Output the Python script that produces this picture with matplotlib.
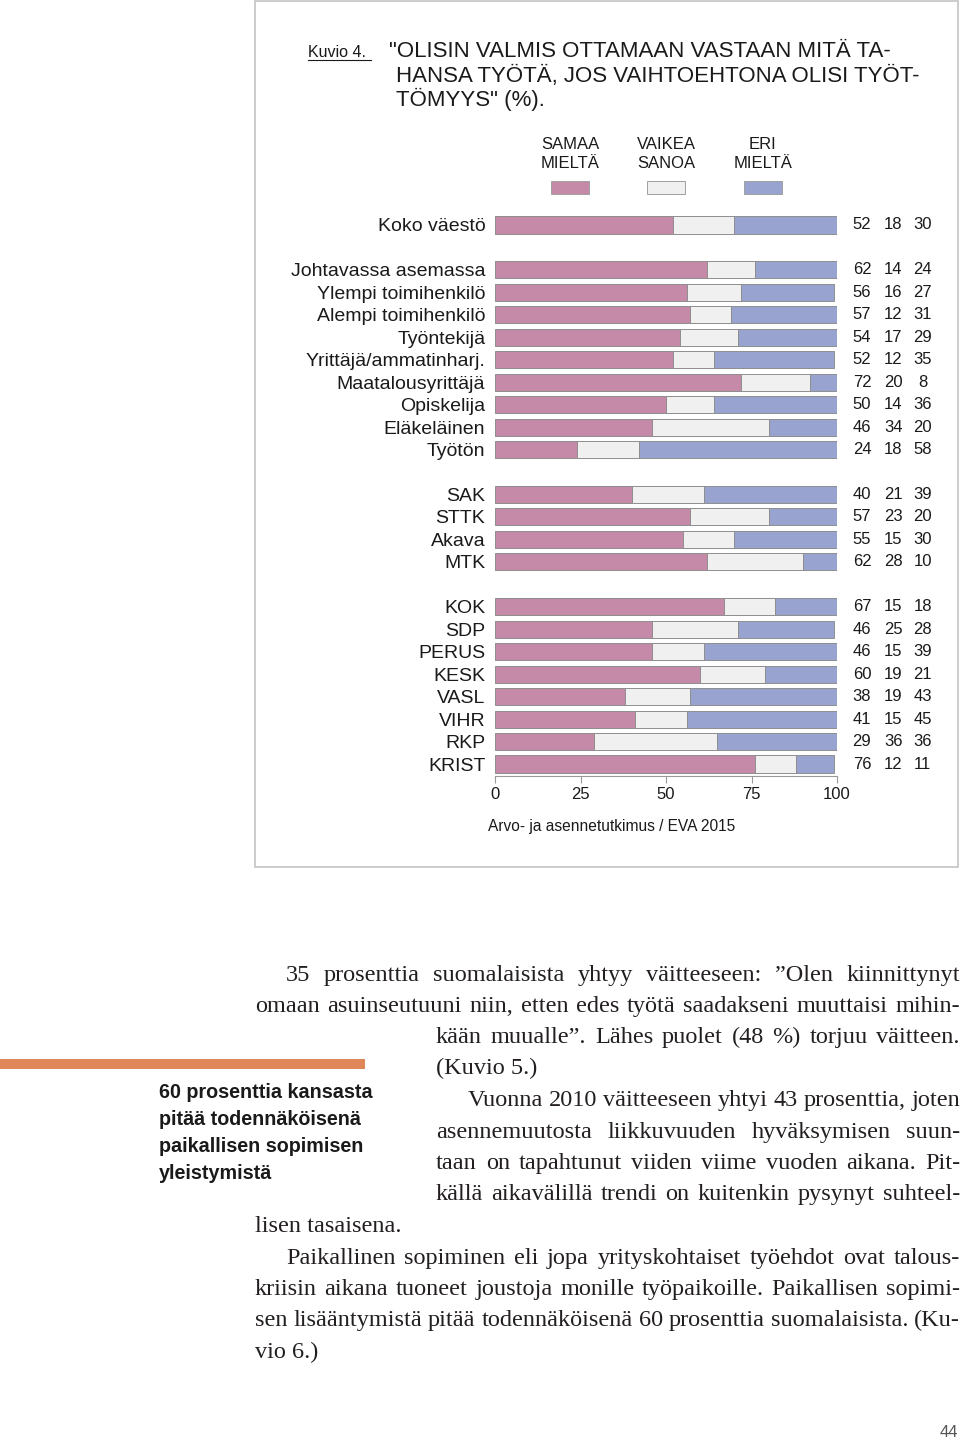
import matplotlib
matplotlib.use('Agg')
import matplotlib.pyplot as plt
from matplotlib.patches import Rectangle


# ===== DATA =====
cats_total = ['Koko väestö']
cats_status = ['Johtavassa asemassa', 'Ylempi toimihenkilö', 'Alempi toimihenkilö',
               'Työntekijä', 'Yrittäjä/ammatinharj.', 'Maatalousyrittäjä',
               'Opiskelija', 'Eläkeläinen', 'Työtön']
cats_union = ['SAK', 'STTK', 'Akava', 'MTK']
cats_party = ['KOK', 'SDP', 'PERUS', 'KESK', 'VASL', 'VIHR', 'RKP', 'KRIST']

agree = [52, 62, 56, 57, 54, 52, 72, 50, 46, 24, 40, 57, 55, 62, 67, 46, 46, 60, 38, 41, 29, 76]
unsure = [18, 14, 16, 12, 17, 12, 20, 14, 34, 18, 21, 23, 15, 28, 15, 25, 15, 19, 19, 15, 36, 12]
disagree = [30, 24, 27, 31, 29, 35, 8, 36, 20, 58, 39, 20, 30, 10, 18, 28, 39, 21, 43, 45, 36, 11]

legend_labels = ['SAMAA\nMIELTÄ', 'VAIKEA\nSANOA', 'ERI\nMIELTÄ']
x_ticks = [0, 25, 50, 75, 100]

title_lines = ['"OLISIN VALMIS OTTAMAAN VASTAAN MITÄ TA-',
               'HANSA TYÖTÄ, JOS VAIHTOEHTONA OLISI TYÖT-',
               'TÖMYYS" (%).']
source = 'Arvo- ja asennetutkimus / EVA 2015'

sidebar = ['60 prosenttia kansasta', 'pitää todennäköisenä',
           'paikallisen sopimisen', 'yleistymistä']

# (text, justified)
body_lines = [
    ('35 prosenttia suomalaisista yhtyy väitteeseen: ”Olen kiinnittynyt', True),
    ('omaan asuinseutuuni niin, etten edes työtä saadakseni muuttaisi mihin-', True),
    ('kään muualle”. Lähes puolet (48 %) torjuu väitteen.', True),
    ('(Kuvio 5.)', False),
    ('Vuonna 2010 väitteeseen yhtyi 43 prosenttia, joten', True),
    ('asennemuutosta liikkuvuuden hyväksymisen suun-', True),
    ('taan on tapahtunut viiden viime vuoden aikana. Pit-', True),
    ('källä aikavälillä trendi on kuitenkin pysynyt suhteel-', True),
    ('lisen tasaisena.', False),
    ('Paikallinen sopiminen eli jopa yrityskohtaiset työehdot ovat talous-', True),
    ('kriisin aikana tuoneet joustoja monille työpaikoille. Paikallisen sopimi-', True),
    ('sen lisääntymistä pitää todennäköisenä 60 prosenttia suomalaisista. (Ku-', True),
    ('vio 6.)', False),
]
body_left = [286, 255, 436, 436, 468, 436, 436, 436, 255, 286, 255, 255, 255]

PINK = '#C48AA7'
GREY = '#F0F0F0'
BLUE = '#98A3D0'
EDGE = '#8E8E8E'
TXT = '#1A1A1A'

W, H = 960, 1438
fig = plt.figure(figsize=(W / 100, H / 100), dpi=100)
fig.patch.set_facecolor('white')

# page overlay in pixel coordinates
page = fig.add_axes([0, 0, 1, 1])
page.set_xlim(0, W)
page.set_ylim(H, 0)
page.axis('off')
page.set_facecolor('none')

# chart frame
page.add_patch(Rectangle((255, 1), 703, 866, fill=False, edgecolor='#C4C4C4', linewidth=1.2))

# title
page.text(308, 57, 'Kuvio 4.', fontsize=11.5, family='Liberation Sans', color=TXT, va='baseline')
page.plot([308, 371], [60, 60], color=TXT, linewidth=0.8)
title_x = [389, 396, 396]
for i, line in enumerate(title_lines):
    page.text(title_x[i], 57 + i * 24.6, line, fontsize=16, family='Liberation Sans',
              color=TXT, va='baseline')

# legend
legend_colors = [PINK, GREY, BLUE]
legend_x = [570, 666, 763]
for lx, lab, col in zip(legend_x, legend_labels, legend_colors):
    page.text(lx, 154, lab, fontsize=12, family='Liberation Sans',
              color=TXT, ha='center', va='center', linespacing=1.3)
    page.add_patch(Rectangle((lx - 19, 181), 38, 13, facecolor=col, edgecolor='#A0A0A0', linewidth=0.7))

# ===== BAR CHART =====
blocks = [cats_total, cats_status, cats_union, cats_party]
cats, pos = [], []
slot = 0
for b in blocks:
    for c in b:
        cats.append(c)
        pos.append(slot)
        slot += 1
    slot += 1

ax_l, ax_r, ax_t, ax_b = 495, 837, 213, 776
ax = fig.add_axes([ax_l / W, 1 - ax_b / H, (ax_r - ax_l) / W, (ax_b - ax_t) / H])
ax.set_facecolor('none')

left2 = [a + u for a, u in zip(agree, unsure)]
ax.barh(pos, agree, height=0.76, color=PINK, edgecolor=EDGE, linewidth=0.7)
ax.barh(pos, unsure, left=agree, height=0.76, color=GREY, edgecolor=EDGE, linewidth=0.7)
ax.barh(pos, disagree, left=left2, height=0.76, color=BLUE, edgecolor=EDGE, linewidth=0.7)

ax.set_xlim(0, 100)
ax.set_ylim(24 + 12 / 22.46, -12 / 22.46)
ax.set_yticks(pos)
ax.set_yticklabels(cats, fontsize=14, family='Liberation Sans', color=TXT)
ax.tick_params(axis='y', length=0, pad=7)
ax.set_xticks(x_ticks)
ax.set_xticklabels([str(t) for t in x_ticks], fontsize=12, family='Liberation Sans', color=TXT)
ax.tick_params(axis='x', length=5, width=0.8, color='#9A9A9A', pad=3)
for s in ['top', 'right', 'left']:
    ax.spines[s].set_visible(False)
ax.spines['bottom'].set_color('#9A9A9A')
ax.spines['bottom'].set_linewidth(0.8)

# value columns at the right
col_x = [107.3, 116.4, 125.1]
for p, a, u, d in zip(pos, agree, unsure, disagree):
    for cx, v in zip(col_x, [a, u, d]):
        ax.text(cx, p, str(v), fontsize=12, family='Liberation Sans', color=TXT,
                ha='center', va='center', clip_on=False)

page.text(488, 827, source, fontsize=11.2, family='Liberation Sans', color=TXT, va='center')

# ===== PAGE TEXT =====
page.add_patch(Rectangle((0, 1059), 365, 10, facecolor='#E0875A', edgecolor='none'))
for i, line in enumerate(sidebar):
    page.text(159, 1098 + i * 27, line, fontsize=14.2, fontweight='bold',
              family='Liberation Sans', color=TXT, va='baseline')

renderer = fig.canvas.get_renderer()
body_kw = dict(fontsize=17.5, family='Liberation Serif', color='#231F20', va='baseline')
base_y = [981, 1012, 1043, 1074, 1106, 1138, 1169, 1200, 1232, 1264, 1295, 1326, 1358]
right_edge = 960
for (line, just), x0, y in zip(body_lines, body_left, base_y):
    if not just:
        page.text(x0, y, line, **body_kw)
        continue
    words = line.split(' ')
    texts = [page.text(0, y, w, **body_kw) for w in words]
    widths = [t.get_window_extent(renderer).width for t in texts]
    gap = (right_edge - x0 - sum(widths)) / (len(words) - 1)
    x = x0
    for t, w in zip(texts, widths):
        t.set_x(x)
        x += w + gap

page.text(958, 1437, '44', fontsize=12, family='Liberation Sans',
          color='#555555', ha='right', va='baseline')

fig.savefig('out.png', dpi=100)
